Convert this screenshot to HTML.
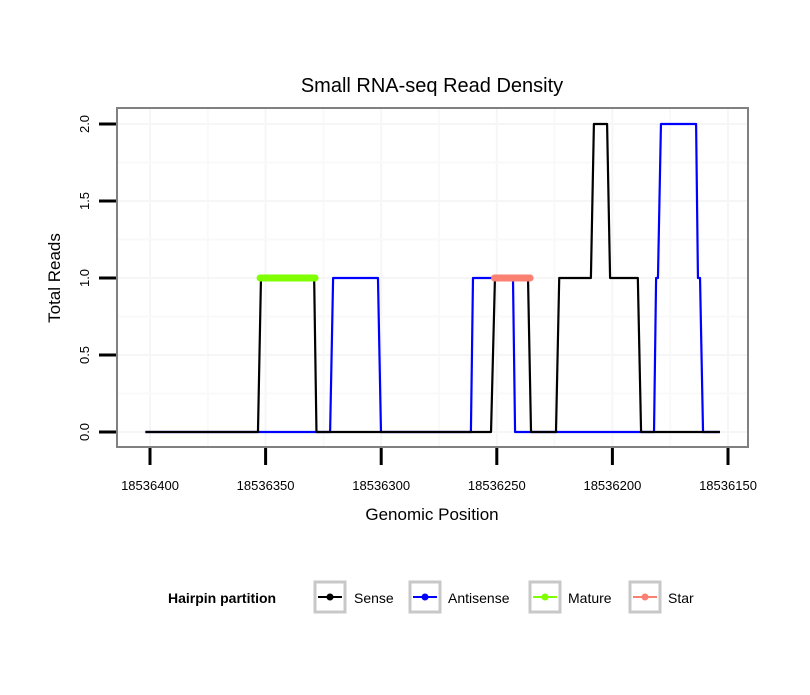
<!DOCTYPE html>
<html><head><meta charset="utf-8"><style>
body{margin:0;background:#fff;}
svg text{font-family:"Liberation Sans",sans-serif;}
</style></head><body>
<svg id="c" width="810" height="690" xmlns="http://www.w3.org/2000/svg">
<rect width="810" height="690" fill="#fff"/>
<text x="432" y="92" text-anchor="middle" font-size="20">Small RNA-seq Read Density</text>
<g id="grid"></g>
<g id="series"></g>
<rect x="117" y="108" width="631" height="339" fill="none" stroke="#808080" stroke-width="2"/>
<g id="axes"></g>
<text x="432" y="520" text-anchor="middle" font-size="17">Genomic Position</text>
<text transform="translate(60,278) rotate(-90)" text-anchor="middle" font-size="17">Total Reads</text>
<g id="legend">
<text x="168" y="603" font-size="14" font-weight="bold">Hairpin partition</text>
</g>
</svg>
<script>
const xTicks=[18536400,18536350,18536300,18536250,18536200,18536150];
const yTicks=[0,0.5,1,1.5,2];
const yTickLabels=["0.0","0.5","1.0","1.5","2.0"];
const sensePos=[18536402,18536353.3,18536352,18536329,18536328,18536252.5,18536250.8,18536236.5,18536235.2,18536224.4,18536223,18536209.3,18536208,18536202.3,18536201,18536189,18536187.6,18536153.5];
const senseVal=[0,0,1,1,0,0,1,1,0,0,1,1,2,2,1,1,0,0];
const antiPos=[18536402,18536322.1,18536320.8,18536301.4,18536300.1,18536261.2,18536260.3,18536243,18536242.1,18536182,18536181.1,18536180.3,18536179,18536163.8,18536163,18536162.1,18536160.8,18536153.5];
const antiVal=[0,0,1,1,0,0,1,1,0,0,1,1,2,2,1,1,0,0];
const maturePos=[18536352.4,18536328.6];
const matureVal=[1,1];
const starPos=[18536251,18536235.6];
const starVal=[1,1];
const legendLabels=["Sense","Antisense","Mature","Star"];
const legendColors=["#000","#0000ff","#7fff00","#fa8072"];

const NS="http://www.w3.org/2000/svg";
const X=p=>150+(18536400-p)*578/250;
const Y=v=>432-v*154;
function mk(t,a,parent){const e=document.createElementNS(NS,t);for(const k in a)e.setAttribute(k,a[k]);parent.appendChild(e);return e;}
const grid=document.getElementById('grid'),axes=document.getElementById('axes'),ser=document.getElementById('series'),leg=document.getElementById('legend');
mk('rect',{x:117,y:108,width:631,height:339,fill:'#fff'},grid);
for(let i=0;i<xTicks.length;i++){
 const x=X(xTicks[i]);
 const g=mk('line',{x1:x,x2:x,y1:108,y2:447,stroke:'#f6f6f6','stroke-width':2},grid);
 
 
 if(i<xTicks.length-1){const xm=X((xTicks[i]+xTicks[i+1])/2);mk('line',{x1:xm,x2:xm,y1:108,y2:447,stroke:'#f9f9f9','stroke-width':2},grid);}
 const t=mk('line',{x1:x,x2:x,y1:448,y2:465,stroke:'#000','stroke-width':3},axes);
 
 
 const l=mk('text',{x:x,y:490,'text-anchor':'middle','font-size':13},axes);
 
 
 l.textContent=xTicks[i];
}
for(let i=0;i<yTicks.length;i++){
 const y=Y(yTicks[i]);
 const g=mk('line',{x1:117,x2:748,y1:y,y2:y,stroke:'#f6f6f6','stroke-width':2},grid);
 
 
 if(i<yTicks.length-1){const ym=Y((yTicks[i]+yTicks[i+1])/2);mk('line',{x1:117,x2:748,y1:ym,y2:ym,stroke:'#f9f9f9','stroke-width':2},grid);}
 const t=mk('line',{x1:99,x2:116,y1:y,y2:y,stroke:'#000','stroke-width':3},axes);
 
 
 const l=mk('text',{transform:`translate(89,${y}) rotate(-90)`,'text-anchor':'middle','font-size':13},axes);
 
 
 l.textContent=yTickLabels[i];
}
function line(pos,val,color,w,name,cap){
 const pts=pos.map((p,i)=>X(p)+','+Y(val[i])).join(' ');
 const e=mk('polyline',{points:pts,fill:'none',stroke:color,'stroke-width':w,'stroke-linejoin':'round','stroke-linecap':cap||'butt'},ser);
 
 
}
line(antiPos,antiVal,'#0000ff',2.2,'antisense-line');
line(sensePos,senseVal,'#000',2.2,'sense-line');
line(maturePos,matureVal,'#7fff00',7,'mature-line','round');
line(starPos,starVal,'#fa8072',7,'star-line','round');
const lx=[313,408,528,628],tx=[354,448,568,668];
for(let i=0;i<legendLabels.length;i++){
 const k=mk('rect',{x:lx[i]+2,y:582,width:30,height:30,fill:'#fff',stroke:'#c8c8c8','stroke-width':3},leg);
 
 
 mk('line',{x1:lx[i]+5,x2:lx[i]+29,y1:597,y2:597,stroke:legendColors[i],'stroke-width':2},leg);
 mk('circle',{cx:lx[i]+17,cy:597,r:3.5,fill:legendColors[i]},leg);
 const t=mk('text',{x:tx[i],y:603,'font-size':14},leg);
 
 
 t.textContent=legendLabels[i];
}
</script>
</body></html>
